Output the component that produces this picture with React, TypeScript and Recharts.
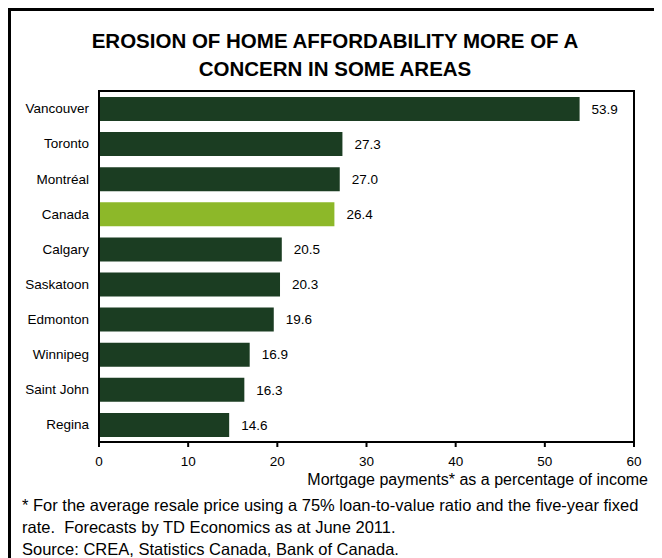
import { BarChart, Bar, XAxis, YAxis, Cell, LabelList, ReferenceArea } from "recharts";

const cities = ["Vancouver", "Toronto", "Montréal", "Canada", "Calgary", "Saskatoon", "Edmonton", "Winnipeg", "Saint John", "Regina"];
const payments = [53.9, 27.3, 27.0, 26.4, 20.5, 20.3, 19.6, 16.9, 16.3, 14.6];
const xTicks = [0, 10, 20, 30, 40, 50, 60];
const highlight = "Canada";

const titleLines = ["EROSION OF HOME AFFORDABILITY MORE OF A", "CONCERN IN SOME AREAS"];
const axisTitle = "Mortgage payments* as a percentage of income";
const notes = [
  "* For the average resale price using a 75% loan-to-value ratio and the five-year fixed",
  "rate.  Forecasts by TD Economics as at June 2011.",
  "Source: CREA, Statistics Canada, Bank of Canada.",
];

const data = cities.map((city, i) => ({ city, value: payments[i] }));

const font = "'Liberation Sans', Arial, sans-serif";
const dark = "#1b3d22";
const light = "#8db829";

export default function App() {
  return (
    <div style={{ position: "relative", width: 654, height: 550, overflow: "hidden", fontFamily: font, color: "#000" }}>
      <div
        style={{
          position: "absolute",
          left: 0,
          top: 0,
          width: 700,
          height: 600,
          border: "3px solid #000",
        }}
      />
      <div
        style={{
          position: "absolute",
          left: 0,
          top: 19,
          width: 654,
          textAlign: "center",
          fontWeight: "bold",
          fontSize: 20.5,
          lineHeight: "28px",
        }}
      >
        {titleLines.map((t) => (
          <div key={t}>{t}</div>
        ))}
      </div>
      <div style={{ position: "absolute", top: 0, left: 0 }}>
        <BarChart
          layout="vertical"
          width={654}
          height={480}
          data={data}
          margin={{ top: 83, right: 28, left: 0, bottom: 16 }}
          barSize={24}
        >
          <XAxis
            type="number"
            domain={[0, 60]}
            ticks={xTicks}
            height={30}
            axisLine={{ stroke: "#000", strokeWidth: 2 }}
            tickLine={{ stroke: "#000", strokeWidth: 2 }}
            tickSize={5}
            tickMargin={9}
            tick={{ fill: "#000", fontSize: 13.5, fontFamily: font }}
          />
          <YAxis
            type="category"
            dataKey="city"
            width={91}
            axisLine={{ stroke: "#000", strokeWidth: 2 }}
            tickLine={false}
            tickSize={0}
            tickMargin={10}
            tick={{ fill: "#000", fontSize: 13.5, fontFamily: font }}
          />
          <ReferenceArea x1={0} x2={60} fill="none" fillOpacity={0} stroke="#000" strokeWidth={2} ifOverflow="extendDomain" />
          <Bar dataKey="value" isAnimationActive={false}>
            {data.map((d) => (
              <Cell key={d.city} fill={d.city === highlight ? light : dark} />
            ))}
            <LabelList
              dataKey="value"
              position="right"
              offset={12}
              formatter={(v: any) => Number(v).toFixed(1)}
              style={{ fill: "#000", fontSize: 13.5, fontFamily: font }}
            />
          </Bar>
        </BarChart>
      </div>
      <div
        style={{
          position: "absolute",
          right: 14,
          top: 462,
          fontSize: 16,
          lineHeight: "20px",
          whiteSpace: "nowrap",
        }}
      >
        {axisTitle}
      </div>
      <div style={{ position: "absolute", left: 14, top: 486, fontSize: 16.5, lineHeight: "22px", whiteSpace: "nowrap" }}>
        {notes.map((n) => (
          <div key={n} style={{ whiteSpace: "pre" }}>{n}</div>
        ))}
      </div>
    </div>
  );
}
